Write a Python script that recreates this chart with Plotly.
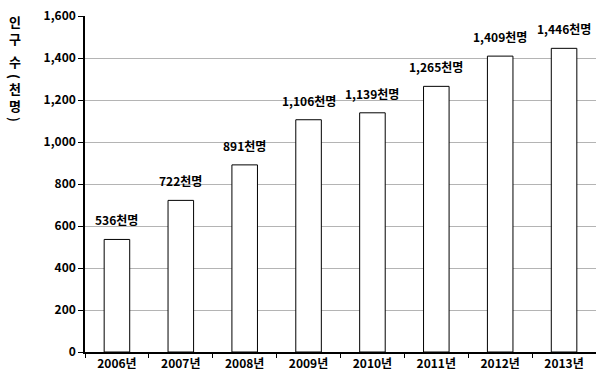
import plotly.graph_objects as go

years = ["2006년", "2007년", "2008년", "2009년", "2010년", "2011년", "2012년", "2013년"]
population = [536, 722, 891, 1106, 1139, 1265, 1409, 1446]
bar_labels = ["536천명", "722천명", "891천명", "1,106천명", "1,139천명", "1,265천명", "1,409천명", "1,446천명"]

# vertical axis title: Hangul stacked upright, parentheses turned sideways
y_title_parts = ["인<br>구", "수", "(", "천<br>명", ")"]
y_title_angle = [0, 0, 90, 0, 90]
y_title_pos_px = [30, 62, 76, 97, 119]  # part centres, px from top of figure

FONT = "Noto Sans CJK KR"
W, H = 596, 381
M_L, M_R, M_T, M_B = 85, 0, 16, 29
plot_w = W - M_L - M_R
plot_h = H - M_T - M_B

fig = go.Figure(
    go.Bar(
        x=years,
        y=population,
        marker=dict(color="white", line=dict(color="black", width=1)),
        width=0.4,
        hoverinfo="skip",
    )
)

for yr, val, lab in zip(years, population, bar_labels):
    fig.add_annotation(
        x=yr, y=val, text=lab, showarrow=False,
        yanchor="bottom", yshift=9,
        font=dict(family=FONT, size=12, color="black", weight="bold"),
    )

for part, ang, ypx in zip(y_title_parts, y_title_angle, y_title_pos_px):
    fig.add_annotation(
        xref="paper", yref="paper",
        x=(15 - M_L) / plot_w, y=(H - M_B - ypx) / plot_h,
        xanchor="center", yanchor="middle",
        text=part, textangle=ang, showarrow=False, borderpad=0,
        font=dict(family=FONT, size=13, color="black", weight="bold"),
    )

fig.update_layout(
    width=W, height=H,
    margin=dict(l=M_L, r=M_R, t=M_T, b=M_B),
    paper_bgcolor="white", plot_bgcolor="white",
    showlegend=False,
    bargap=0.6,
)
fig.update_xaxes(
    showline=True, linecolor="black", linewidth=1.5,
    ticks="outside", tickson="boundaries", ticklen=4, tickcolor="black",
    tickfont=dict(family=FONT, size=12, color="black", weight="bold"),
    showgrid=False,
)
fig.update_yaxes(
    range=[0, 1600], dtick=200, tickformat=",",
    showline=True, linecolor="black", linewidth=1.5,
    ticks="outside", ticklen=5, tickcolor="black",
    tickfont=dict(family=FONT, size=12, color="black", weight="bold"),
    showgrid=True, gridcolor="#b4b4b4", gridwidth=1,
    zeroline=False,
)

fig.write_html("out.html")
